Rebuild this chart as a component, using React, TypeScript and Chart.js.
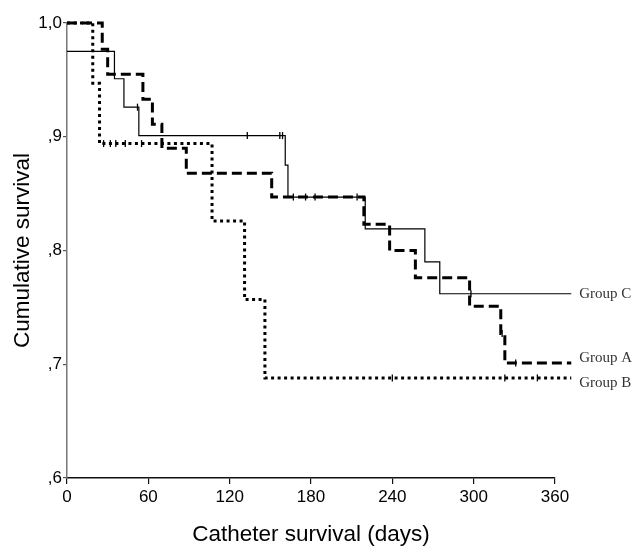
import React, { useEffect, useRef } from "react";
import { Chart, registerables } from "chart.js";

Chart.register(...registerables);

// Kaplan-Meier steps (day of event, survival after event)
const groupADays = [0, 26, 30, 56, 63, 70, 88, 151, 219, 238, 257, 297, 320, 323, 372];
const groupASurv = [1.0, 0.977, 0.955, 0.933, 0.911, 0.89, 0.868, 0.847, 0.823, 0.8, 0.776, 0.751, 0.727, 0.701, 0.701];

const groupBDays = [0, 19, 24, 107, 131, 146, 372];
const groupBSurv = [1.0, 0.947, 0.894, 0.826, 0.757, 0.688, 0.688];

const groupCDays = [0, 35, 42, 53, 161, 163, 220, 264, 275, 372];
const groupCSurv = [0.975, 0.951, 0.926, 0.901, 0.875, 0.847, 0.819, 0.79, 0.762, 0.762];

// Censored observations
const censorADays = [176, 183, 214, 321, 331];
const censorASurv = [0.847, 0.847, 0.847, 0.727, 0.701];
const censorBDays = [27, 32, 36, 43, 55, 240, 323, 347];
const censorBSurv = [0.894, 0.894, 0.894, 0.894, 0.894, 0.688, 0.688, 0.688];
const censorCDays = [52, 133, 157, 159, 167, 298];
const censorCSurv = [0.926, 0.901, 0.901, 0.901, 0.847, 0.762];

const groupLabels = ["Group A", "Group B", "Group C"];
const labelOffsets = [-5, 5, 0];

const xTicks = [0, 60, 120, 180, 240, 300, 360];
const yTicks = [0.6, 0.7, 0.8, 0.9, 1.0];

const toPts = (xs: number[], ys: number[]) => xs.map((x, i) => ({ x, y: ys[i] }));

export default function App() {
  const ref = useRef<HTMLCanvasElement | null>(null);

  useEffect(() => {
    if (!ref.current) return;
    const stepData = [toPts(groupADays, groupASurv), toPts(groupBDays, groupBSurv), toPts(groupCDays, groupCSurv)];

    const labelPlugin = {
      id: "groupLabels",
      afterDatasetsDraw(chart: any) {
        const { ctx, scales } = chart;
        ctx.save();
        ctx.font = '15px "Liberation Serif", "Times New Roman", serif';
        ctx.fillStyle = "#333";
        ctx.textBaseline = "middle";
        ctx.textAlign = "left";
        stepData.forEach((pts, i) => {
          const last = pts[pts.length - 1];
          const x = scales.x.getPixelForValue(last.x) + 8;
          const y = scales.y.getPixelForValue(last.y) + labelOffsets[i];
          ctx.fillText(groupLabels[i], x, y);
        });
        ctx.restore();
      },
    };

    const chart = new Chart(ref.current, {
      type: "line",
      data: {
        datasets: [
          {
            label: groupLabels[0],
            data: stepData[0],
            stepped: true,
            borderColor: "#000",
            borderWidth: 3,
            borderDash: [10, 5],
            pointRadius: 0,
            fill: false,
            clip: false as any,
          },
          {
            label: groupLabels[1],
            data: stepData[1],
            stepped: true,
            borderColor: "#000",
            borderWidth: 3,
            borderDash: [3, 3.5],
            pointRadius: 0,
            fill: false,
            clip: false as any,
          },
          {
            label: groupLabels[2],
            data: stepData[2],
            stepped: true,
            borderColor: "#000",
            borderWidth: 1.2,
            pointRadius: 0,
            fill: false,
            clip: false as any,
          },
          ...[
            toPts(censorADays, censorASurv),
            toPts(censorBDays, censorBSurv),
            toPts(censorCDays, censorCSurv),
          ].map((d, i) => ({
            type: "scatter" as const,
            label: groupLabels[i] + " censored",
            data: d,
            showLine: false,
            pointStyle: "line" as const,
            rotation: 90,
            radius: 3.5,
            pointRadius: 3.5,
            borderColor: "#000",
            borderWidth: 1.3,
            backgroundColor: "#000",
          })),
        ] as any,
      },
      options: {
        animation: false,
        responsive: true,
        maintainAspectRatio: false,
        layout: { padding: { top: 23, right: 79, left: 0, bottom: 0 } },
        plugins: {
          legend: { display: false },
          tooltip: { enabled: false },
        },
        scales: {
          x: {
            type: "linear",
            min: 0,
            max: 360,
            afterBuildTicks: (s: any) => {
              s.ticks = xTicks.map((v) => ({ value: v }));
            },
            afterFit: (s: any) => {
              s.height = 72;
            },
            ticks: {
              color: "#000",
              font: { family: '"Liberation Sans", Arial, sans-serif', size: 17 },
              padding: 3,
              maxRotation: 0,
            },
            grid: { display: true, drawOnChartArea: false, drawTicks: true, tickLength: 6, color: "#111", lineWidth: 1.2 },
            border: { display: true, color: "#111", width: 1.5 },
            title: {
              display: true,
              text: "Catheter survival (days)",
              color: "#000",
              font: { family: '"Liberation Sans", Arial, sans-serif', size: 22.5 },
              padding: { top: 0, bottom: 2 },
            },
          },
          y: {
            type: "linear",
            min: 0.6,
            max: 1.0,
            afterBuildTicks: (s: any) => {
              s.ticks = yTicks.map((v) => ({ value: v }));
            },
            afterFit: (s: any) => {
              s.width = 67;
            },
            ticks: {
              color: "#000",
              font: { family: '"Liberation Sans", Arial, sans-serif', size: 17 },
              padding: 1,
              callback: (v: any) => {
                const n = Math.round(Number(v) * 10);
                return n === 10 ? "1,0" : "," + n;
              },
            },
            grid: { display: true, drawOnChartArea: false, drawTicks: true, tickLength: 4, color: "#555", lineWidth: 1.2 },
            border: { display: true, color: "#777", width: 1.5 },
            title: {
              display: true,
              text: "Cumulative survival",
              color: "#000",
              font: { family: '"Liberation Sans", Arial, sans-serif', size: 22.5 },
              padding: { top: 9, bottom: 0 },
            },
          },
        },
      },
      plugins: [labelPlugin],
    });
    return () => chart.destroy();
  }, []);

  return (
    <div style={{ position: "absolute", left: 0, top: 0, width: 634, height: 550, background: "#fff" }}>
      <canvas ref={ref} />
    </div>
  );
}
